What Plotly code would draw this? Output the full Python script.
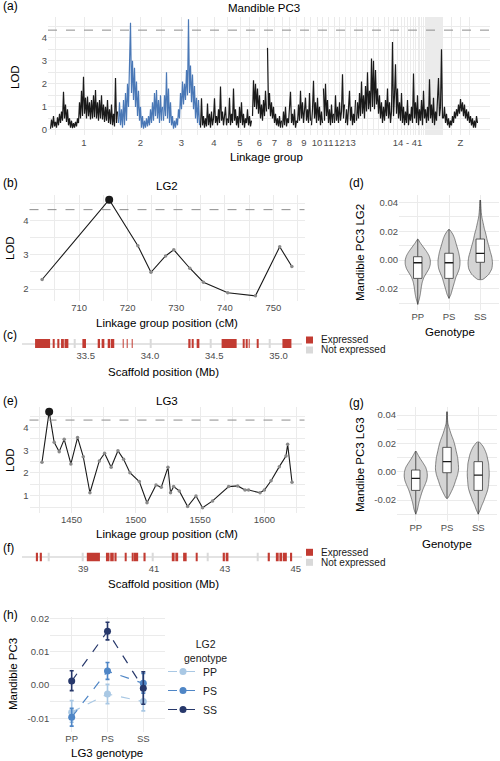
import plotly.graph_objects as go

W, H = 500, 761
FONT = "Liberation Sans, Arial, Helvetica, sans-serif"
TICK_COLOR = "#4d4d4d"
GRID = "#ebebeb"
BLUE = "#4a78b6"
BLACK = "#1a1a1a"
RED = "#c23b32"
NOTEXP = "#d9d9d9"
THRESHOLD = 4.33

# ---------------- Panel (a): genome-wide scan ----------------
LG_LABELS = ["1", "2", "3", "4", "5", "6", "7", "8", "9", "10", "11", "12", "13", "14 - 41", "Z"]
LG_LENGTHS_CM = [680, 450, 370, 280, 240, 150, 150, 150, 140, 120, 110, 110, 110, 870, 350]
SMALL_LG_LENGTHS_CM = [120, 110, 100, 90, 60, 70, 50, 40, 35, 30, 15, 14, 13, 12, 11, 10, 10, 9, 9,
                       8, 8, 8, 7, 7, 7, 6, 6, 5]
SMALL_LG_LABEL_INDEX = 5
HIGHLIGHT_LGS = ["2", "3"]

LOD_LG1 = [0.05, 0.45, 0.1, 0.6, 0.15, 0.35, 0.1, 0.55, 0.2, 0.7, 0.3, 0.8, 0.4, 1.66, 0.5, 1.1, 0.35,
           0.9, 0.2, 0.5, 0.1, 0.4, 0.08, 0.3, 0.1, 0.35, 0.15, 0.5, 0.3, 1.2, 0.5, 1.7, 0.6, 2.31, 0.7,
           1.4, 0.5, 1.45, 0.6, 1.2, 0.45, 1.3, 0.5, 1.5, 0.55, 1.73, 0.5, 1.2, 0.4, 1.3, 0.5, 1.5, 0.45,
           1.1, 0.35, 1.0, 0.4, 1.3, 0.3, 0.9, 0.25, 1.1, 0.2, 0.7, 0.15, 2.25, 0.3, 0.8]
LOD_LG2 = [0.3, 1.2, 0.2, 0.9, 0.1, 1.3, 0.2, 1.6, 0.4, 2.0, 1.0, 2.7, 4.65, 1.6, 3.0, 1.3, 2.7, 1.0,
           2.1, 0.6, 1.7, 0.4, 1.0, 0.1, 0.6, 0.05, 0.4, 0.1, 0.5, 0.15, 0.6, 0.2, 0.9, 0.3, 1.2, 0.4,
           1.6, 0.6, 1.73, 0.5, 1.3, 0.3, 1.5, 0.4, 1.0]
LOD_LG3 = [0.4, 1.5, 0.6, 2.5, 0.5, 1.8, 0.3, 1.2, 0.2, 0.6, 0.05, 0.4, 0.1, 0.5, 0.2, 0.9, 0.5, 1.6,
           0.9, 2.1, 1.1, 2.0, 1.3, 2.6, 1.5, 4.8, 1.6, 2.8, 1.2, 2.4, 0.9, 1.9, 0.5, 1.4, 0.3, 1.3, 0.2]
LOD_LG4 = [0.1, 1.37, 0.2, 0.6, 0.1, 0.5, 0.15, 1.15, 0.2, 0.7, 0.1, 0.8, 0.2, 0.5, 1.37, 0.3, 0.6,
           0.2, 0.9, 0.3, 1.88, 0.4, 0.8, 0.2, 0.6, 1.0, 0.2, 0.5]
LOD_LG5 = [0.3, 1.4, 0.2, 0.7, 0.3, 1.8, 0.4, 0.9, 0.2, 0.6, 0.1, 1.0, 0.3, 1.2, 0.2, 0.7, 0.1, 0.5,
           0.3, 0.9, 0.2, 0.6, 0.15, 0.4]
LOD_LG6 = [0.6, 2.16, 1.0, 2.0, 0.9, 1.8, 0.7, 1.5, 0.5, 1.1, 0.4, 1.3, 0.6, 1.7, 0.8]
LOD_LG7 = [3.56, 0.9, 1.6, 0.6, 1.2, 0.5, 1.0, 0.3, 0.7, 0.2, 0.5, 0.15, 0.6, 0.1, 0.4]
LOD_LG8 = [0.1, 0.8, 0.2, 1.0, 0.15, 0.5, 0.3, 1.2, 1.66, 0.3, 0.7, 0.2, 0.9, 0.1, 0.4]
LOD_LG9 = [0.3, 1.1, 0.4, 1.7, 0.5, 1.2, 0.3, 1.0, 1.4, 0.4, 0.9, 0.3, 1.6, 0.4]
LOD_LG10 = [0.2, 0.9, 2.13, 0.5, 1.2, 0.3, 1.4, 0.4, 1.0, 0.2, 0.8, 0.3]
LOD_LG11 = [1.8, 0.4, 2.0, 0.6, 1.3, 0.3, 0.9, 0.2, 1.1, 0.3, 0.7]
LOD_LG12 = [0.3, 1.5, 0.4, 1.0, 0.3, 1.2, 0.4, 0.8, 2.42, 0.5, 1.1]
LOD_LG13 = [0.3, 0.9, 0.2, 1.2, 1.7, 0.4, 1.0, 0.2, 0.7, 0.3, 1.3]
LOD_LG14_41 = [0.4, 1.2, 0.5, 1.6, 0.6, 2.1, 0.7, 1.5, 0.5, 1.9,
               0.8, 2.5, 0.9, 1.7, 0.8, 3.1, 1.0, 3.0, 0.9, 2.6,
               1.1, 1.8, 0.7, 1.5, 0.5, 1.2, 0.3, 1.0, 0.4, 1.3,
               0.6, 1.8, 0.5, 1.2, 0.3, 0.8, 3.82, 0.6, 1.5, 2.85,
               0.7, 1.8, 0.5, 1.2, 0.4, 1.6, 0.3, 1.0, 0.2, 0.8,
               0.3, 1.3, 0.2, 0.7, 0.4, 1.0, 0.3, 2.45, 0.5, 1.2,
               0.3, 1.5, 0.2, 0.9, 0.4, 1.3, 0.2, 1.7, 0.5, 0.9,
               0.3, 1.0, 0.4, 2.2, 0.5, 1.1, 0.3, 1.4, 0.2, 0.8,
               0.4, 1.3, 2.25, 0.6, 1.0, 3.5, 0.5]
LOD_LGZ = [0.5, 1.0, 0.3, 0.7, 0.2, 0.5, 0.1, 0.4, 0.2, 0.6, 0.3, 0.8, 0.5, 0.9, 0.6, 1.1, 0.7, 1.34,
           0.8, 1.2, 0.6, 1.1, 0.5, 0.9, 0.4, 0.8, 0.3, 0.6, 0.2, 0.5, 0.1, 0.4, 0.1, 0.6, 0.3]
LOD_ALL = [LOD_LG1, LOD_LG2, LOD_LG3, LOD_LG4, LOD_LG5, LOD_LG6, LOD_LG7, LOD_LG8, LOD_LG9,
           LOD_LG10, LOD_LG11, LOD_LG12, LOD_LG13, LOD_LG14_41, LOD_LGZ]

# ---------------- Panel (b): LG2 ----------------
LG2_POS_CM = [702.4, 716.2, 722.1, 724.8, 727.8, 729.5, 732.8, 735.6, 740.6, 746.3, 751.3, 753.8]
LG2_LOD = [2.28, 4.62, 3.27, 2.49, 2.97, 3.15, 2.61, 2.20, 1.89, 1.80, 3.24, 2.66]

# ---------------- Panel (c): genes near LG2 peak ----------------
C_EXPR_START = [33.106, 33.248, 33.279, 33.308, 33.335, 33.474, 33.598, 33.624, 33.676, 33.695,
                33.790, 33.820, 33.860, 34.298, 34.325, 34.363, 34.557, 34.722, 34.750, 34.772,
                34.833, 35.030]
C_EXPR_END = [33.223, 33.258, 33.295, 33.330, 33.365, 33.502, 33.611, 33.645, 33.690, 33.722,
              33.793, 33.823, 33.864, 34.315, 34.337, 34.384, 34.674, 34.735, 34.757, 34.775,
              34.838, 35.100]
C_NOTEXP_START = [33.410, 34.005, 34.470, 34.930]
C_NOTEXP_END = [33.416, 34.012, 34.476, 34.936]

# ---------------- Panel (d): LG2 genotype violins ----------------
GENOTYPES = ["PP", "PS", "SS"]
D_PP_Y = [0.0146, 0.012, 0.009, 0.006, 0.003, 0.0, -0.003, -0.006, -0.009, -0.012, -0.015, -0.018,
          -0.021, -0.024, -0.027, -0.0309]
D_PP_W = [0.0, 0.08, 0.18, 0.28, 0.36, 0.40, 0.40, 0.36, 0.28, 0.20, 0.15, 0.12, 0.10, 0.08, 0.05, 0.0]
D_PS_Y = [0.0214, 0.018, 0.015, 0.012, 0.009, 0.006, 0.003, 0.0, -0.003, -0.006, -0.009, -0.012,
          -0.015, -0.018, -0.021, -0.024, -0.0267]
D_PS_W = [0.0, 0.12, 0.18, 0.22, 0.26, 0.30, 0.33, 0.35, 0.35, 0.33, 0.28, 0.22, 0.18, 0.14, 0.10,
          0.06, 0.0]
D_SS_Y = [0.0418, 0.038, 0.034, 0.030, 0.026, 0.022, 0.018, 0.014, 0.010, 0.006, 0.002, -0.002,
          -0.006, -0.010, -0.0135]
D_SS_W = [0.01, 0.02, 0.03, 0.05, 0.09, 0.13, 0.18, 0.22, 0.27, 0.32, 0.37, 0.39, 0.37, 0.27, 0.08]
D_Q1 = [-0.0128, -0.0128, -0.0016]
D_MED = [-0.0019, -0.0019, 0.0047]
D_Q3 = [0.0023, 0.0047, 0.0146]
D_LOW = [-0.0309, -0.0267, -0.0135]
D_HIGH = [0.0146, 0.0214, 0.0418]

# ---------------- Panel (e): LG3 ----------------
LG3_POS_CM = [1427.0, 1432.6, 1436.5, 1440.4, 1444.3, 1449.5, 1454.7, 1459.1, 1464.3, 1471.6, 1475.7,
              1480.8, 1486.1, 1490.5, 1495.4, 1502.7, 1508.7, 1515.7, 1519.8, 1525.0, 1527.0, 1529.4,
              1533.8, 1540.3, 1546.8, 1551.9, 1559.7, 1572.2, 1579.2, 1584.9, 1587.7, 1596.6, 1600.0,
              1605.2, 1611.6, 1616.8, 1618.1, 1621.5]
LG3_LOD = [2.47, 4.70, 3.35, 2.94, 3.48, 2.40, 3.56, 2.72, 1.13, 2.53, 2.87, 2.25, 2.98, 2.60, 2.01,
           1.62, 0.69, 1.47, 1.37, 2.25, 1.13, 1.40, 1.21, 0.52, 0.99, 0.47, 0.77, 1.40, 1.43, 1.25,
           1.25, 1.13, 1.25, 1.66, 2.28, 2.75, 3.26, 1.59]

# ---------------- Panel (f): genes near LG3 peak ----------------
F_EXPR_START = [37.66, 37.77, 39.10, 39.64, 39.76, 39.88, 40.18, 40.37, 40.43, 40.70, 41.50, 41.60,
                41.82, 42.20, 42.95, 43.05, 44.23, 44.44, 44.54, 44.64, 44.84]
F_EXPR_END = [37.72, 37.83, 39.47, 39.74, 39.86, 39.94, 40.20, 40.40, 40.55, 40.76, 41.58, 41.68,
              41.92, 42.22, 43.00, 43.10, 44.27, 44.52, 44.62, 44.75, 44.90]
F_NOTEXP_START = [38.00, 38.97, 40.95, 42.50, 43.90]
F_NOTEXP_END = [38.03, 39.00, 40.98, 42.53, 43.93]

# ---------------- Panel (g): LG3 genotype violins ----------------
G_PP_Y = [0.0146, 0.012, 0.009, 0.006, 0.003, 0.0, -0.003, -0.006, -0.009, -0.012, -0.015, -0.018,
          -0.021, -0.024, -0.027, -0.030]
G_PP_W = [0.0, 0.07, 0.15, 0.24, 0.32, 0.36, 0.37, 0.35, 0.30, 0.24, 0.19, 0.15, 0.11, 0.08, 0.05, 0.0]
G_PS_Y = [0.0424, 0.038, 0.034, 0.030, 0.026, 0.022, 0.018, 0.014, 0.010, 0.006, 0.002, -0.002,
          -0.006, -0.010, -0.014, -0.0188]
G_PS_W = [0.01, 0.015, 0.03, 0.08, 0.14, 0.21, 0.26, 0.30, 0.34, 0.36, 0.37, 0.34, 0.28, 0.22, 0.14,
          0.02]
G_SS_Y = [0.0212, 0.018, 0.015, 0.012, 0.009, 0.006, 0.003, 0.0, -0.003, -0.006, -0.009, -0.012,
          -0.015, -0.018, -0.021, -0.024, -0.027, -0.030]
G_SS_W = [0.03, 0.15, 0.22, 0.27, 0.30, 0.33, 0.34, 0.35, 0.35, 0.34, 0.33, 0.31, 0.27, 0.22, 0.17,
          0.11, 0.06, 0.0]
G_Q1 = [-0.0132, -0.0007, -0.0132]
G_MED = [-0.0047, 0.0071, -0.0024]
G_Q3 = [0.0012, 0.0172, 0.0071]
G_LOW = [-0.030, -0.0188, -0.030]
G_HIGH = [0.0146, 0.0424, 0.0212]

# ---------------- Panel (h): interaction plot ----------------
H_LG3_GENO = ["PP", "PS", "SS"]
H_PP_MEAN = [-0.0082, -0.0027, -0.0050]
H_PP_HI = [-0.0047, 0.0002, -0.0022]
H_PP_LO = [-0.0112, -0.0056, -0.0078]
H_PS_MEAN = [-0.0097, 0.0042, 0.0005]
H_PS_HI = [-0.0070, 0.0068, 0.0035]
H_PS_LO = [-0.0124, 0.0017, -0.0025]
H_SS_MEAN = [0.0012, 0.0162, -0.0010]
H_SS_HI = [0.0043, 0.0189, 0.0040]
H_SS_LO = [-0.0017, 0.0136, -0.0058]
H_COLORS = ["#a9c8e4", "#4f86c6", "#27386b"]


def fx(px):
    return px / W


def fy(py):
    return 1 - py / H


def dom_x(a, b):
    return [fx(a), fx(b)]


def dom_y(top, bottom):
    return [fy(bottom), fy(top)]


def base_axis(**kw):
    d = dict(type="linear", showline=False, zeroline=False, ticks="", fixedrange=True,
             tickfont=dict(size=9.5, color=TICK_COLOR, family=FONT),
             gridcolor=GRID, gridwidth=1, tickangle=0)
    d.update(kw)
    return d


def minor_grid(vals):
    return dict(tickmode="array", tickvals=vals, showgrid=True, gridcolor=GRID, gridwidth=0.5, ticks="")


fig = go.Figure()

# ---- (a) traces
starts = []
acc = 0
for L in LG_LENGTHS_CM:
    starts.append(acc)
    acc += L
for i, lab in enumerate(LG_LABELS):
    vals = LOD_ALL[i]
    n = len(vals)
    L = LG_LENGTHS_CM[i]
    xs = [starts[i] + (k + 0.5) * L / n for k in range(n)]
    fig.add_trace(go.Scatter(x=xs, y=vals, mode="lines",
                             line=dict(color=BLUE if lab in HIGHLIGHT_LGS else BLACK, width=1.2),
                             xaxis="x", yaxis="y", showlegend=False, hoverinfo="skip"))

major_vals, major_text = [], []
for i, lab in enumerate(LG_LABELS):
    if lab == "14 - 41":
        s = starts[i]
        for j, L in enumerate(SMALL_LG_LENGTHS_CM):
            major_vals.append(s + L / 2)
            major_text.append(lab if j == SMALL_LG_LABEL_INDEX else "")
            s += L
    else:
        major_vals.append(starts[i] + LG_LENGTHS_CM[i] / 2)
        major_text.append(lab)
minor_a = [(a + b) / 2 for a, b in zip(major_vals[:-1], major_vals[1:])]
minor_a = ([major_vals[0] - (major_vals[1] - major_vals[0]) / 2] + minor_a +
           [major_vals[-1] + (major_vals[-1] - major_vals[-2]) / 2])


# ---- (b) and (e) LOD profiles
def profile(pos, lod, xa, ya):
    fig.add_trace(go.Scatter(x=pos, y=lod, mode="lines+markers",
                             line=dict(color=BLACK, width=1.1),
                             marker=dict(size=3.5, color="#8a8a8a"),
                             xaxis=xa, yaxis=ya, showlegend=False, hoverinfo="skip"))
    k = lod.index(max(lod))
    fig.add_trace(go.Scatter(x=[pos[k]], y=[lod[k]], mode="markers",
                             marker=dict(size=8, color=BLACK),
                             xaxis=xa, yaxis=ya, showlegend=False, hoverinfo="skip"))


profile(LG2_POS_CM, LG2_LOD, "x2", "y2")
profile(LG3_POS_CM, LG3_LOD, "x5", "y5")


# ---- (c) and (f) gene tracks
def genes(starts_, ends_, color, xa, ya):
    fig.add_trace(go.Bar(y=[0.5] * len(starts_), x=[e - s for s, e in zip(starts_, ends_)],
                         base=starts_, orientation="h", width=1.0,
                         marker=dict(color=color, line=dict(width=0)),
                         xaxis=xa, yaxis=ya, showlegend=False, hoverinfo="skip"))


genes(C_NOTEXP_START, C_NOTEXP_END, NOTEXP, "x3", "y3")
genes(C_EXPR_START, C_EXPR_END, RED, "x3", "y3")
genes(F_NOTEXP_START, F_NOTEXP_END, NOTEXP, "x6", "y6")
genes(F_EXPR_START, F_EXPR_END, RED, "x6", "y6")


# ---- (d) and (g) violins + boxes (boxes drawn as scatter so they sit above the violins)
def violin(xc, ys, ws, xa, ya):
    xs = [xc - w for w in ws] + [xc + w for w in reversed(ws)]
    yy = list(ys) + list(reversed(ys))
    fig.add_trace(go.Scatter(x=xs, y=yy, mode="lines", fill="toself", fillcolor="#d4d4d4",
                             line=dict(color="#555555", width=0.7, shape="spline", smoothing=0.6),
                             xaxis=xa, yaxis=ya, showlegend=False, hoverinfo="skip"))


BOX_HALF = 0.135


def boxes(q1, med, q3, lo, hi, xa, ya):
    for i in range(3):
        xc = i + 1
        # whiskers
        fig.add_trace(go.Scatter(x=[xc, xc, None, xc, xc], y=[lo[i], q1[i], None, q3[i], hi[i]],
                                 mode="lines", line=dict(color="#333333", width=0.8),
                                 xaxis=xa, yaxis=ya, showlegend=False, hoverinfo="skip"))
        # box body
        fig.add_trace(go.Scatter(x=[xc - BOX_HALF, xc + BOX_HALF, xc + BOX_HALF, xc - BOX_HALF, xc - BOX_HALF],
                                 y=[q1[i], q1[i], q3[i], q3[i], q1[i]],
                                 mode="lines", fill="toself", fillcolor="white",
                                 line=dict(color="#333333", width=0.8),
                                 xaxis=xa, yaxis=ya, showlegend=False, hoverinfo="skip"))
        # median
        fig.add_trace(go.Scatter(x=[xc - BOX_HALF, xc + BOX_HALF], y=[med[i], med[i]],
                                 mode="lines", line=dict(color="#1a1a1a", width=1.3),
                                 xaxis=xa, yaxis=ya, showlegend=False, hoverinfo="skip"))


for i, (ys, ws) in enumerate([(D_PP_Y, D_PP_W), (D_PS_Y, D_PS_W), (D_SS_Y, D_SS_W)]):
    violin(i + 1, ys, ws, "x4", "y4")
boxes(D_Q1, D_MED, D_Q3, D_LOW, D_HIGH, "x4", "y4")
for i, (ys, ws) in enumerate([(G_PP_Y, G_PP_W), (G_PS_Y, G_PS_W), (G_SS_Y, G_SS_W)]):
    violin(i + 1, ys, ws, "x7", "y7")
boxes(G_Q1, G_MED, G_Q3, G_LOW, G_HIGH, "x7", "y7")

# ---- (h) interaction plot
h_x = [i + 1 for i in range(len(H_LG3_GENO))]
for name, mean, hi, lo, col in [("PP", H_PP_MEAN, H_PP_HI, H_PP_LO, H_COLORS[0]),
                                ("PS", H_PS_MEAN, H_PS_HI, H_PS_LO, H_COLORS[1]),
                                ("SS", H_SS_MEAN, H_SS_HI, H_SS_LO, H_COLORS[2])]:
    fig.add_trace(go.Scatter(x=h_x, y=mean, mode="lines+markers", name=name,
                             line=dict(color=col, width=1.2, dash="dash"),
                             marker=dict(size=7, color=col),
                             error_y=dict(type="data", array=[h - m for h, m in zip(hi, mean)],
                                          arrayminus=[m - l for m, l in zip(mean, lo)],
                                          color=col, thickness=1.6, width=2),
                             xaxis="x8", yaxis="y8", showlegend=True, hoverinfo="skip"))

# ---------------- layout ----------------
layout = dict(
    width=W, height=H, autosize=False, margin=dict(l=0, r=0, t=0, b=0, autoexpand=False),
    paper_bgcolor="white", plot_bgcolor="white", barmode="overlay",
    font=dict(family=FONT, color="black"),
    showlegend=True,
    legend=dict(x=fx(163), y=fy(657), xanchor="left", yanchor="top",
                font=dict(size=10.5, family=FONT, color="#1a1a1a"), bgcolor="rgba(0,0,0,0)",
                itemwidth=30, tracegroupgap=0),
)

layout["xaxis"] = base_axis(domain=dom_x(48, 490), range=[-20, 4400], anchor="y",
                            tickmode="array", tickvals=major_vals, ticktext=major_text,
                            minor=minor_grid(minor_a))
layout["yaxis"] = base_axis(domain=dom_y(17, 135), range=[-0.22, 4.9], anchor="x",
                            tickmode="array", tickvals=[0, 1, 2, 3, 4],
                            minor=minor_grid([0.5, 1.5, 2.5, 3.5, 4.5]))

layout["xaxis2"] = base_axis(domain=dom_x(29.5, 304.5), range=[699.8, 756.4], anchor="y2",
                             tickmode="array", tickvals=[710, 720, 730, 740, 750],
                             minor=minor_grid([705, 715, 725, 735, 745, 755]))
layout["yaxis2"] = base_axis(domain=dom_y(195, 300.6), range=[1.66, 4.76], anchor="x2",
                             tickmode="array", tickvals=[2, 3, 4],
                             minor=minor_grid([2.5, 3.5, 4.5]))

layout["xaxis3"] = base_axis(domain=dom_x(21.7, 301.7), range=[33.002, 35.18], anchor="y3",
                             tickmode="array", tickvals=[33.5, 34.0, 34.5, 35.0],
                             ticktext=["33.5", "34.0", "34.5", "35.0"], showgrid=False)
layout["yaxis3"] = base_axis(domain=dom_y(339, 348), range=[0, 1], anchor="x3",
                             tickmode="array", tickvals=[0.5], showticklabels=False,
                             gridcolor="#e3e3e3", gridwidth=1.5)

layout["xaxis4"] = base_axis(domain=dom_x(399, 499), range=[0.4, 3.6], anchor="y4",
                             tickmode="array", tickvals=[1, 2, 3], ticktext=GENOTYPES)
layout["yaxis4"] = base_axis(domain=dom_y(194.7, 309.7), range=[-0.0346, 0.0455], anchor="x4",
                             tickmode="array", tickvals=[-0.02, 0.0, 0.02, 0.04],
                             ticktext=["-0.02", "0.00", "0.02", "0.04"],
                             minor=minor_grid([-0.03, -0.01, 0.01, 0.03]))

layout["xaxis5"] = base_axis(domain=dom_x(29.5, 304.5), range=[1417.3, 1631.2], anchor="y5",
                             tickmode="array", tickvals=[1450, 1500, 1550, 1600],
                             minor=minor_grid([1425, 1475, 1525, 1575, 1625]))
layout["yaxis5"] = base_axis(domain=dom_y(406.9, 512.5), range=[0.26, 4.91], anchor="x5",
                             tickmode="array", tickvals=[1, 2, 3, 4],
                             minor=minor_grid([0.5, 1.5, 2.5, 3.5, 4.5]))

layout["xaxis6"] = base_axis(domain=dom_x(21.7, 301.7), range=[37.26, 45.17], anchor="y6",
                             tickmode="array", tickvals=[39, 41, 43, 45], showgrid=False)
layout["yaxis6"] = base_axis(domain=dom_y(552.5, 561.5), range=[0, 1], anchor="x6",
                             tickmode="array", tickvals=[0.5], showticklabels=False,
                             gridcolor="#e3e3e3", gridwidth=1.5)

layout["xaxis7"] = base_axis(domain=dom_x(397, 497), range=[0.4, 3.6], anchor="y7",
                             tickmode="array", tickvals=[1, 2, 3], ticktext=GENOTYPES)
layout["yaxis7"] = base_axis(domain=dom_y(407.3, 520.7), range=[-0.0346, 0.0455], anchor="x7",
                             tickmode="array", tickvals=[-0.02, 0.0, 0.02, 0.04],
                             ticktext=["-0.02", "0.00", "0.02", "0.04"],
                             minor=minor_grid([-0.03, -0.01, 0.01, 0.03]))

layout["xaxis8"] = base_axis(domain=dom_x(50.2, 164.8), range=[0.4, 3.6], anchor="y8",
                             tickmode="array", tickvals=h_x, ticktext=H_LG3_GENO)
layout["yaxis8"] = base_axis(domain=dom_y(617, 731.8), range=[-0.0141, 0.0205], anchor="x8",
                             tickmode="array", tickvals=[-0.01, 0.0, 0.01, 0.02],
                             ticktext=["-0.01", "0.00", "0.01", "0.02"],
                             minor=minor_grid([-0.005, 0.005, 0.015]))

# threshold lines
shapes = []
for xa, ya in [("x", "y"), ("x2", "y2"), ("x5", "y5")]:
    shapes.append(dict(type="line", xref=xa + " domain", x0=0, x1=1, yref=ya, y0=THRESHOLD,
                       y1=THRESHOLD, line=dict(color="#8c8c8c", width=1, dash="dash"), layer="above"))

# legend keys for gene tracks
for top in (336.5, 548.8):
    shapes.append(dict(type="rect", xref="paper", yref="paper", x0=fx(306), x1=fx(313),
                       y0=fy(top + 7), y1=fy(top), fillcolor=RED, line=dict(width=0)))
    shapes.append(dict(type="rect", xref="paper", yref="paper", x0=fx(306), x1=fx(313),
                       y0=fy(top + 17), y1=fy(top + 10), fillcolor=NOTEXP, line=dict(width=0)))
layout["shapes"] = shapes


def txt(text, x, y, size=11.5, anchor="center", angle=0, color="black"):
    return dict(text=text, x=fx(x), y=fy(y), xref="paper", yref="paper", showarrow=False,
                xanchor=anchor, yanchor="middle", textangle=angle,
                font=dict(size=size, family=FONT, color=color))


ann = [
    txt("(a)", 1, 6, 12, "left"), txt("Mandible PC3", 264, 8),
    txt("LOD", 15, 77, angle=-90), txt("Linkage group", 266, 157),
    txt("(b)", 1, 183, 12, "left"), txt("LG2", 167, 186),
    txt("LOD", 10, 248, angle=-90), txt("Linkage group position (cM)", 167, 323),
    txt("(c)", 1, 335, 12, "left"), txt("Scaffold position (Mb)", 163, 372),
    txt("Expressed", 319, 340, 10, "left", color="#1a1a1a"),
    txt("Not expressed", 319, 350, 10, "left", color="#1a1a1a"),
    txt("(d)", 347, 183, 12, "left"), txt("Mandible PC3 LG2", 360, 253, angle=-90),
    txt("Genotype", 450, 332),
    txt("(e)", 1, 401, 12, "left"), txt("LG3", 167, 401),
    txt("LOD", 10, 460, angle=-90), txt("Linkage group position (cM)", 167, 534),
    txt("(f)", 1, 548, 12, "left"), txt("Scaffold position (Mb)", 163, 584),
    txt("Expressed", 319, 552, 10, "left", color="#1a1a1a"),
    txt("Not expressed", 319, 562, 10, "left", color="#1a1a1a"),
    txt("(g)", 347, 403, 12, "left"), txt("Mandibe PC3 LG3", 360, 465, angle=-90),
    txt("Genotype", 447, 544),
    txt("(h)", 1, 615, 12, "left"), txt("Mandible PC3", 13, 674, angle=-90),
    txt("LG3 genotype", 107, 753),
    dict(text="LG2<br>genotype", x=fx(205), y=fy(651), xref="paper", yref="paper",
         showarrow=False, xanchor="center", yanchor="middle", align="center",
         font=dict(size=10.5, family=FONT, color="#1a1a1a")),
]
layout["annotations"] = ann

fig.update_layout(**layout)
fig.write_html("out.html", config={"displayModeBar": False},
               post_script="document.body.style.margin='0px';document.body.style.padding='0px';")
